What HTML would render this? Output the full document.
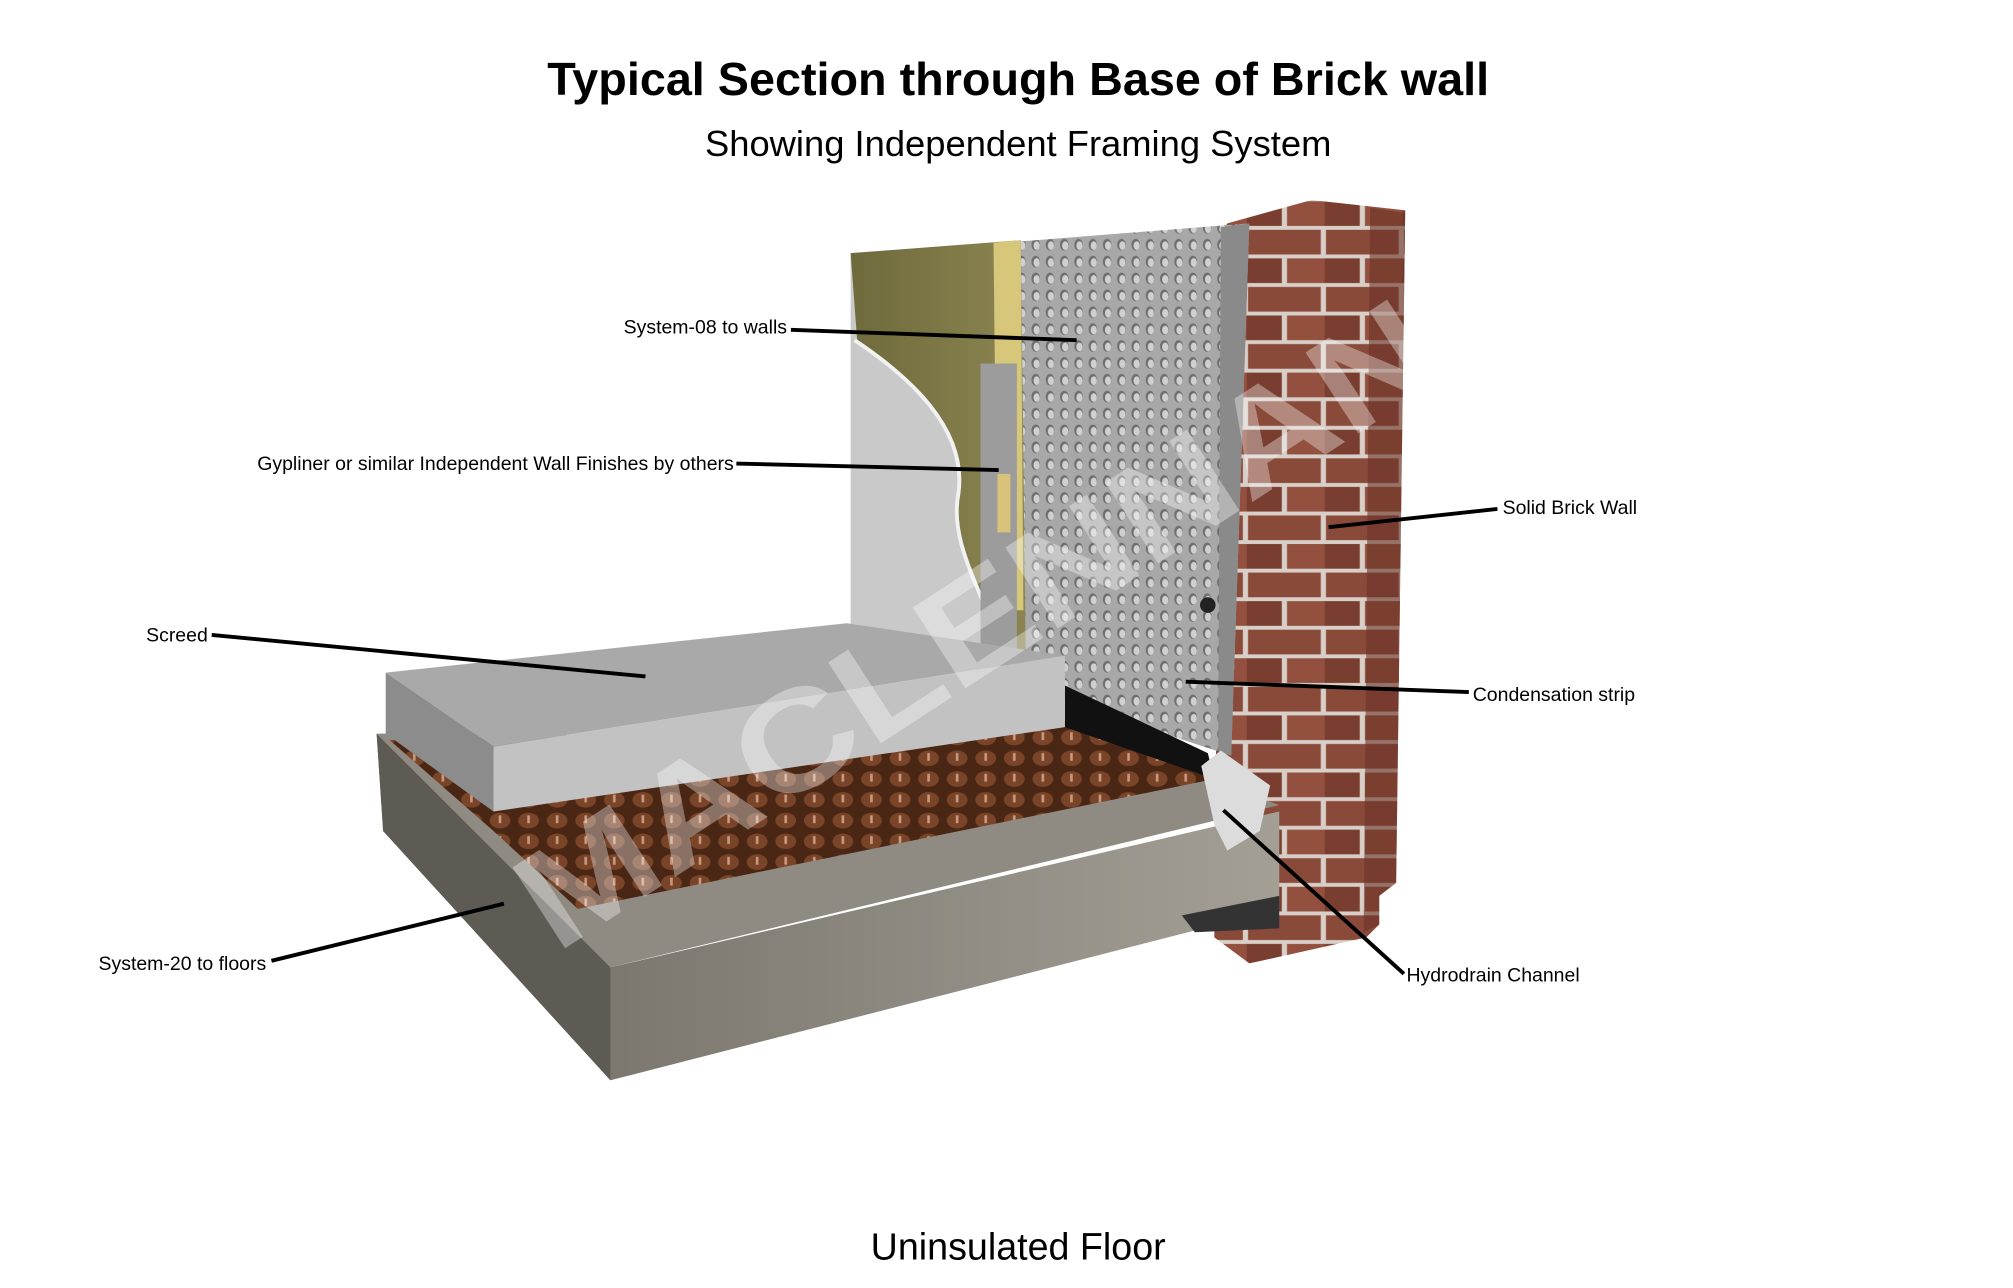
<!DOCTYPE html>
<html><head><meta charset="utf-8"><style>
html,body{margin:0;padding:0;background:#fff;}
svg{display:block;}
text{font-family:"Liberation Sans",sans-serif;}
</style></head><body>
<svg width="2013" height="1288" viewBox="0 0 1550 992" preserveAspectRatio="none" xmlns="http://www.w3.org/2000/svg">
<defs>
<pattern id="dots" width="11" height="13" patternUnits="userSpaceOnUse">
<rect width="11" height="13" fill="#a8a8a8"/>
<ellipse cx="5.5" cy="6.5" rx="3.3" ry="4.5" fill="#6e6e6e"/>
<ellipse cx="6.2" cy="7.2" rx="2.4" ry="3.4" fill="#d0d0d0"/>
</pattern>
<pattern id="brick" width="60" height="44" patternUnits="userSpaceOnUse">
<rect width="60" height="44" fill="#d8cfc8"/>
<rect x="1" y="1" width="56" height="19" fill="#8a4a3a"/>
<rect x="-29" y="23" width="56" height="19" fill="#7a3e30"/>
<rect x="31" y="23" width="56" height="19" fill="#93503e"/>
</pattern>
<pattern id="dimple" width="22" height="16" patternUnits="userSpaceOnUse">
<rect width="22" height="16" fill="#4a2614"/>
<ellipse cx="11" cy="8" rx="8" ry="6" fill="#7a4428"/>
<rect x="10" y="4" width="2" height="6" fill="#c89a80"/>
</pattern>
<linearGradient id="ins" x1="0" x2="1"><stop offset="0" stop-color="#6f6a3c"/><stop offset="1" stop-color="#8c8552"/></linearGradient>
<linearGradient id="conc" x1="0" x2="1"><stop offset="0" stop-color="#6e6a62"/><stop offset="1" stop-color="#a39f95"/></linearGradient>
</defs>

<text x="784" y="73" text-anchor="middle" font-size="36" font-weight="bold" fill="#000">Typical Section through Base of Brick wall</text>
<text x="784" y="120" text-anchor="middle" font-size="28" fill="#000">Showing Independent Framing System</text>
<text x="784" y="970" text-anchor="middle" font-size="29" fill="#000">Uninsulated Floor</text>

<polygon points="945,172 1010,154 1082,162 1075,680 1062,690 1062,712 1052,722 962,742 935,722 940,180" fill="url(#brick)"/>
<polygon points="1055,160 1082,164 1075,680 1062,690 1062,712 1050,718" fill="#6a3328" opacity="0.6"/>

<polygon points="785,186 962,172 948,582 790,530" fill="url(#dots)"/>
<polygon points="940,175 962,172 948,582 938,578" fill="#8a8a8a"/>

<polygon points="655,195 786,185 790,520 660,505" fill="url(#ins)"/>
<polygon points="765,187 786,185 788,470 768,470" fill="#d7c77a"/>
<path d="M655,195 L655,500 L772,505 C760,460 730,420 738,380 C745,330 700,290 660,262 Z" fill="#c9c9c9"/>
<path d="M658,262 C700,290 745,330 738,380 C730,420 760,460 772,505" fill="none" stroke="#f2f2f2" stroke-width="3"/>
<rect x="755" y="280" width="28" height="225" fill="#9c9c9c"/>
<rect x="768" y="365" width="10" height="45" fill="#d9c27a"/>
<circle cx="930" cy="466" r="6" fill="#222"/>

<polygon points="290,565 470,745 985,625 985,700 470,832 295,640" fill="url(#conc)"/>
<polygon points="290,565 295,640 470,832 470,745" fill="#5e5b55"/>
<polygon points="290,565 380,565 900,590 985,620 470,745" fill="#8f8b83"/>
<polygon points="910,705 985,690 985,715 920,718" fill="#333"/>
<polygon points="300,570 820,555 935,600 445,700 380,640" fill="url(#dimple)"/>
<polygon points="820,528 930,580 935,600 820,560" fill="#111"/>
<polygon points="925,590 940,578 978,605 970,640 945,655 935,635" fill="#dcdcdc"/>
<polygon points="297,518 652,480 820,505 380,575" fill="#a9a9a9"/>
<polygon points="297,518 380,575 380,625 297,565" fill="#8c8c8c"/>
<polygon points="380,575 820,505 820,560 380,625" fill="#c2c2c2"/>

<text x="0" y="0" transform="translate(428,735) rotate(-33)" font-size="108" font-weight="bold" fill="#ffffff" fill-opacity="0.35" textLength="820" lengthAdjust="spacingAndGlyphs">MACLENNAN</text>

<g stroke="#000" stroke-width="3" fill="none">
<line x1="609" y1="254" x2="829" y2="262"/>
<line x1="567" y1="357" x2="769" y2="362"/>
<line x1="163" y1="489" x2="497" y2="521"/>
<line x1="1153" y1="392" x2="1023" y2="406"/>
<line x1="1131" y1="533" x2="913" y2="525"/>
<line x1="1081" y1="750" x2="942" y2="624"/>
<line x1="209" y1="740" x2="388" y2="696"/>
</g>
<g font-size="15" fill="#000">
<text x="606" y="257" text-anchor="end">System-08 to walls</text>
<text x="565" y="362" text-anchor="end">Gypliner or similar Independent Wall Finishes by others</text>
<text x="160" y="494" text-anchor="end">Screed</text>
<text x="1157" y="396">Solid Brick Wall</text>
<text x="1134" y="540">Condensation strip</text>
<text x="1083" y="756">Hydrodrain Channel</text>
<text x="205" y="747" text-anchor="end">System-20 to floors</text>
</g>
</svg>
</body></html>
